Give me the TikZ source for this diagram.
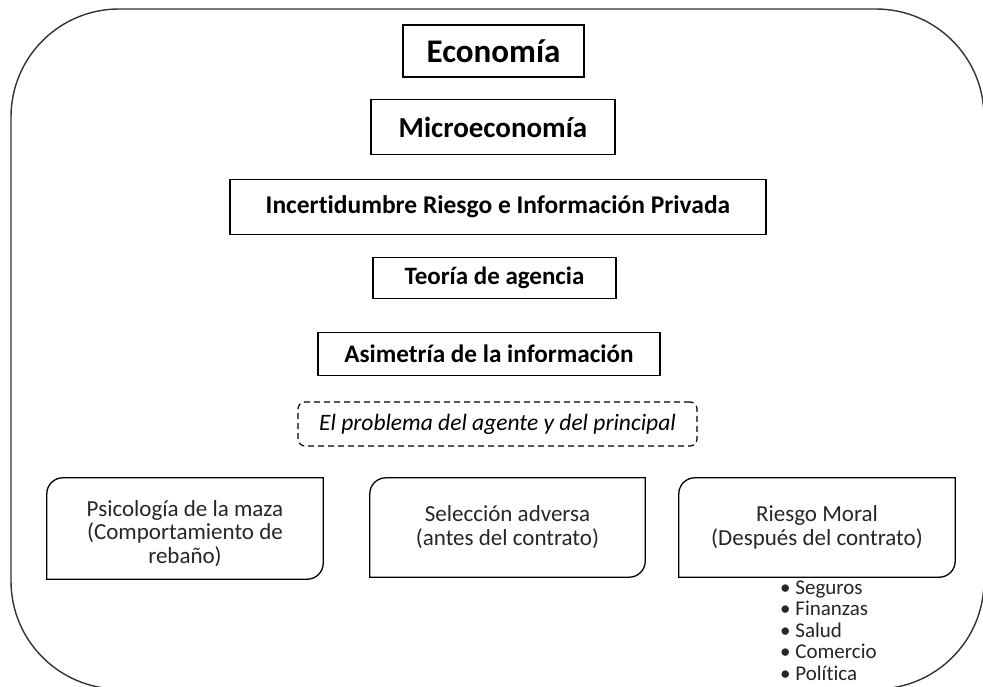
\documentclass[tikz,border=0pt]{standalone}
\usepackage{fontspec}
\setmainfont[Ligatures={NoCommon}]{Carlito}
\begin{document}
\begin{tikzpicture}[x=1pt,y=-1pt,
  topbox/.style={draw, line width=1.6pt, inner sep=0pt, align=center, font=\bfseries},
  lowbox/.style={inner sep=0pt, align=center, font=\fontsize{23}{24}\selectfont, text=black!85},
  lowtext/.style={inner sep=0pt, align=center, font=\fontsize{23}{23.5}\selectfont, text=black!85},
  diagline/.style={line width=1.3pt, line cap=rect, rounded corners=16pt},
  dashbox/.style={draw, dash pattern=on 6pt off 4pt, line width=1.2pt, rounded corners=7pt, inner sep=0pt, font=\itshape\fontsize{23.5}{25}\selectfont},
  frame/.style={draw=black!80, line width=1.4pt, rounded corners=108pt}
]
\useasboundingbox (0,0) rectangle (983,687);
\begin{scope}
\clip (0,0) rectangle (983,687);
\path[frame] (11,9) rectangle (984,689);
\end{scope}

\node[topbox, minimum width=181pt, minimum height=52pt, font=\bfseries\fontsize{33}{35}\selectfont] (eco) at (493.5,51) {Economía};
\node[topbox, minimum width=244pt, minimum height=55pt, font=\bfseries\fontsize{29}{31}\selectfont] (micro) at (493,127) {Microeconomía};
\node[topbox, minimum width=536pt, minimum height=55pt, font=\bfseries\fontsize{25.5}{27}\selectfont] (inc) at (498,207) {Incertidumbre Riesgo e Información Privada};
\node[topbox, minimum width=243pt, minimum height=41pt, font=\bfseries\fontsize{25}{27}\selectfont] (teo) at (494.5,278) {Teoría de agencia};
\node[topbox, minimum width=342pt, minimum height=43pt, font=\bfseries\fontsize{25.2}{27}\selectfont] (asi) at (489,354) {Asimetría de la información};
\node[dashbox, minimum width=399pt, minimum height=44pt] (prob) at (497.5,424) {El problema del agente y del principal};

\node[lowbox, minimum width=276pt, minimum height=101pt] (psi) at (185,528.5) {};
\node[lowtext] (psitext) at ([yshift=-5pt]psi.center) {Psicología de la maza\\(Comportamiento de\\rebaño)};
\node[lowbox, minimum width=275pt, minimum height=99pt] (sel) at (507.5,527.5) {Selección adversa\\(antes del contrato)};
\node[lowbox, minimum width=276pt, minimum height=99pt] (rie) at (817,527.5) {Riesgo Moral\\(Después del contrato)};

\foreach \n in {psi,sel,rie}{
  \draw[diagline] (\n.south west) -- (\n.north west) -- (\n.north east);
  \draw[diagline] (\n.north east) -- (\n.south east) -- (\n.south west);
}

\node[anchor=north west, inner sep=0pt, align=left, text=black!85, font=\fontsize{21}{21.5}\selectfont] (list) at (780,580.5)
  {\textbullet\ Seguros\\ \textbullet\ Finanzas\\ \textbullet\ Salud\\ \textbullet\ Comercio\\ \textbullet\ Política};
\end{tikzpicture}
\end{document}
